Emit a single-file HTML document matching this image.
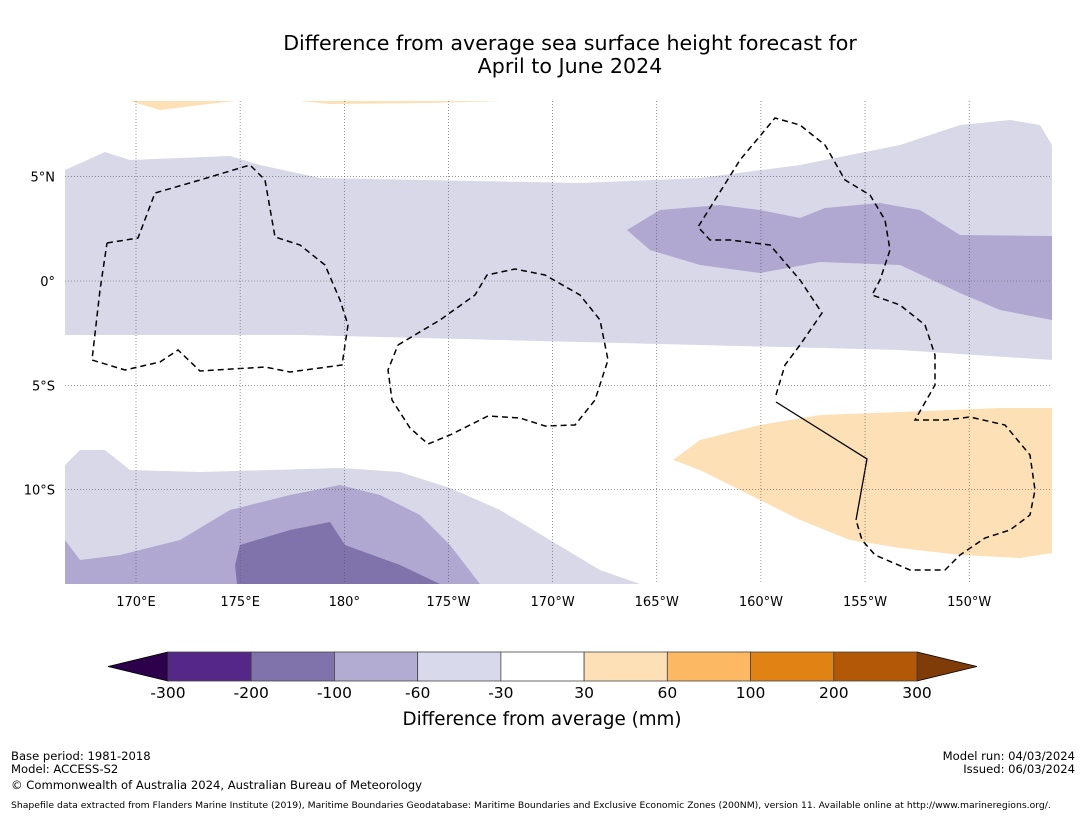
<!DOCTYPE html>
<html><head><meta charset="utf-8"><style>
body{margin:0;background:#fff;font-family:"DejaVu Sans","Liberation Sans",sans-serif;}
svg text{font-family:"DejaVu Sans","Liberation Sans",sans-serif;}
</style></head><body>
<svg id="c" width="1085" height="816" xmlns="http://www.w3.org/2000/svg">
<rect width="1085" height="816" fill="#fff"/>
<text x="570" y="50" font-size="20.6" text-anchor="middle">Difference from average sea surface height forecast for</text>
<text x="570" y="73" font-size="20.6" text-anchor="middle">April to June 2024</text>
<g id="map">
<clipPath id="cl"><rect x="65" y="101" width="987" height="483"/></clipPath>
<g clip-path="url(#cl)">
<polygon fill="#d8d8e9" points="65,170 105,152 130,160 230,156 260,165 320,178 580,183 700,178 800,165 900,145 960,125 1010,120 1040,125 1052,145 1052,360 900,350 700,345 500,340 300,335 65,335"/>
<polygon fill="#b0a8d0" points="627,230 660,210 720,205 760,210 800,218 825,208 880,203 920,210 960,235 1052,236 1052,320 1000,310 960,293 900,265 820,262 760,273 700,265 650,250"/>
<polygon fill="#d8d8e9" points="65,465 80,450 105,450 130,470 200,472 340,468 400,472 450,488 500,510 550,540 600,570 640,584 65,584"/>
<polygon fill="#b0a8d0" points="65,540 80,560 120,555 180,540 230,510 290,495 340,485 380,495 420,515 450,545 480,584 65,584"/>
<polygon fill="#8073ab" points="240,545 290,530 330,522 345,545 400,565 440,584 237,584 235,565"/>
<polygon fill="#fde0b6" points="673,460 700,440 760,425 820,415 900,412 1000,408 1052,408 1052,553 1020,558 960,555 900,548 850,540 800,520 740,490 700,470"/>
<polygon fill="#fde0b6" points="130,101 160,110 200,105 235,101"/>
<polygon fill="#fde0b6" points="300,101 330,104 430,103 502,101"/>
<g fill="none" stroke="#000" stroke-width="1.5" stroke-dasharray="6,4">
<polyline points="107,243 138,238 155,193 200,180 250,165 265,180 275,237 300,245 325,265 340,300 348,325 342,365 290,372 265,367 200,371 178,350 160,362 125,370 92,360 100,290 107,243"/>
<polyline points="398,345 440,320 475,295 487,275 515,269 545,275 580,295 600,320 608,360 595,400 575,425 545,426 520,418 488,416 450,435 428,444 410,428 392,400 388,370 398,345"/>
<polyline points="776,395 785,365 800,345 822,313 800,280 770,245 730,240 710,240 698,227 740,160 775,118 800,125 825,145 845,180 870,195 885,220 890,250 880,280 872,295 900,305 925,325 935,355 935,385 915,420 945,420 970,417 1005,425 1030,455 1035,490 1030,515 1010,530 985,538 960,555 945,570 910,570 875,555 862,540 856,520"/>
</g>
<polyline fill="none" stroke="#000" stroke-width="1.3" points="776,402 867,459 856,520"/>
</g>
<g id="grid"></g>
</g>
<g id="cbar"></g>
<text x="542" y="725" font-size="18.3" text-anchor="middle">Difference from average (mm)</text>
<g font-size="11.6">
<text x="11" y="760">Base period: 1981-2018</text>
<text x="11" y="773">Model: ACCESS-S2</text>
<text x="11" y="789">© Commonwealth of Australia 2024, Australian Bureau of Meteorology</text>
<text x="1075" y="760" text-anchor="end">Model run: 04/03/2024</text>
<text x="1075" y="773" text-anchor="end">Issued: 06/03/2024</text>
<text x="11" y="808" font-size="9.25">Shapefile data extracted from Flanders Marine Institute (2019), Maritime Boundaries Geodatabase: Maritime Boundaries and Exclusive Economic Zones (200NM), version 11. Available online at http://www.marineregions.org/.</text>
</g>
</svg>
<script>
const lonTicks=[170,175,180,185,190,195,200,205,210];
const lonLabels=["170°E","175°E","180°","175°W","170°W","165°W","160°W","155°W","150°W"];
const latTicks=[5,0,-5,-10];
const latLabels=["5°N","0°","5°S","10°S"];
const cbLevels=["-300","-200","-100","-60","-30","30","60","100","200","300"];
const cbColors=["#542788","#8073ac","#b2abd2","#d8daeb","#ffffff","#fee0b6","#fdb863","#e08214","#b35806"];
const cbExtend=["#2d004b","#7f3b08"];
const NS="http://www.w3.org/2000/svg";
const xLon=l=>136+(l-170)*20.83;
const yLat=a=>281-a*20.87;
const g=document.getElementById('grid');
function mk(t,a,p){const e=document.createElementNS(NS,t);for(const k in a)e.setAttribute(k,a[k]);p.appendChild(e);return e;}
lonTicks.forEach((l,i)=>{
 const ln=mk('line',{x1:xLon(l),x2:xLon(l),y1:101,y2:584,stroke:'#555','stroke-width':0.6,'stroke-dasharray':'1,2'},g);
 
 
 const t=mk('text',{x:xLon(l),y:606,'font-size':13,'text-anchor':'middle'},g);t.textContent=lonLabels[i];
 
 
});
latTicks.forEach((a,i)=>{
 const ln=mk('line',{x1:65,x2:1052,y1:yLat(a),y2:yLat(a),stroke:'#555','stroke-width':0.6,'stroke-dasharray':'1,2'},g);
 
 
 const t=mk('text',{x:55,y:yLat(a)+5,'font-size':13,'text-anchor':'end'},g);t.textContent=latLabels[i];
 
 
});
const cb=document.getElementById('cbar');
const x0=168,x1=917,y0=652,h=29,w=(x1-x0)/cbColors.length;
const lt=mk('polygon',{points:`${x0},${y0} ${x0},${y0+h} 108,${y0+h/2}`,fill:cbExtend[0],stroke:'#000','stroke-width':0.8},cb);


const rt=mk('polygon',{points:`${x1},${y0} ${x1},${y0+h} 977,${y0+h/2}`,fill:cbExtend[1],stroke:'#000','stroke-width':0.8},cb);


cbColors.forEach((c,i)=>{
 const r=mk('rect',{x:x0+i*w,y:y0,width:w,height:h,fill:c,stroke:'#444','stroke-width':0.8},cb);
 
 
});
cbLevels.forEach((v,i)=>{
 const t=mk('text',{x:x0+i*w,y:698,'font-size':15.5,'text-anchor':'middle'},cb);t.textContent=v;
 
 
});
</script>
</body></html>
